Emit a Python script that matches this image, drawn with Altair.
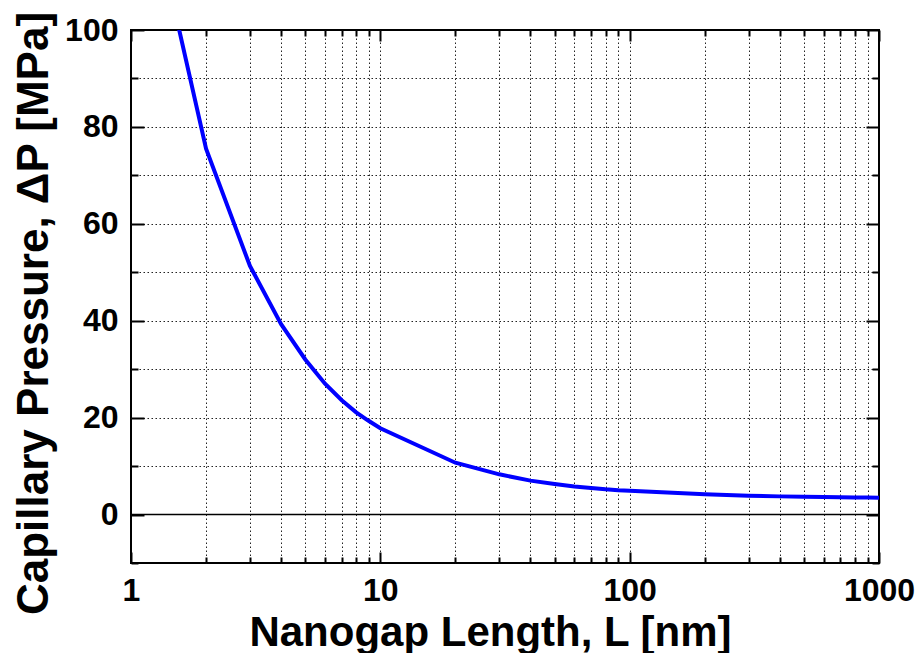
import altair as alt
import pandas as pd

# ---- data ----
L_nm = [1, 2, 3, 4, 5, 6, 7, 8, 9, 10,
        20, 30, 40, 50, 60, 70, 80, 90, 100,
        200, 300, 400, 500, 600, 700, 800, 900, 1000]
dP_MPa = [144.0, 75.5, 51.3, 39.3, 32.0, 27.0, 23.6, 21.1, 19.3, 17.8,
          10.7, 8.3, 7.0, 6.3, 5.8, 5.5, 5.2, 5.0, 4.9,
          4.2, 3.9, 3.75, 3.65, 3.6, 3.55, 3.5, 3.5, 3.45]

x_major = [1, 10, 100, 1000]
x_minor = [2, 3, 4, 5, 6, 7, 8, 9, 20, 30, 40, 50, 60, 70, 80, 90,
           200, 300, 400, 500, 600, 700, 800, 900]
x_grid = [2, 3, 4, 5, 6, 7, 8, 9, 10, 20, 30, 40, 50, 60, 70, 80, 90, 100,
          200, 300, 400, 500, 600, 700, 800, 900]
y_major = [0, 20, 40, 60, 80, 100]
y_minor = [-10, 10, 30, 50, 70, 90]
y_grid = [10, 20, 30, 40, 50, 60, 70, 80, 90]
zero_line = [0]

W, H = 748, 533
FONT = "Liberation Sans"

df = pd.DataFrame({"L": L_nm, "dP": dP_MPa})
zdf = pd.DataFrame({"z": zero_line})

xs = alt.Scale(type="log", domain=[1, 1000], nice=False)
ys = alt.Scale(domain=[-10, 100], nice=False, zero=False)

base = alt.Chart(df)


def axis_layer(xaxis, yaxis):
    return base.mark_line(opacity=0).encode(
        x=alt.X("L:Q", scale=xs, axis=xaxis),
        y=alt.Y("dP:Q", scale=ys, axis=yaxis),
    )


def tick_axis(orient, offset, values, size):
    return alt.Axis(orient=orient, offset=offset, values=values, ticks=True,
                    tickSize=size, tickWidth=2, tickColor="black",
                    labels=False, domain=False, grid=False, title=None)


grid = axis_layer(
    alt.Axis(values=x_grid, grid=True, gridDash=[1.5, 2.5], gridColor="#222222",
             gridWidth=1, ticks=False, labels=False, domain=False, title=None),
    alt.Axis(values=y_grid, grid=True, gridDash=[1.5, 2.5], gridColor="#222222",
             gridWidth=1, ticks=False, labels=False, domain=False, title=None),
)

zero = alt.Chart(zdf).mark_rule(color="black", strokeWidth=1.5).encode(
    y=alt.Y("z:Q", scale=ys, axis=None)
)

line = base.mark_line(color="#0000FF", strokeWidth=4, clip=True).encode(
    x=alt.X("L:Q", scale=xs, axis=None),
    y=alt.Y("dP:Q", scale=ys, axis=None),
)

ticks_a = axis_layer(tick_axis("top", -H, x_major, 11), tick_axis("right", -W, y_major, 13))
ticks_b = axis_layer(tick_axis("top", -H, x_minor, 6), tick_axis("right", -W, y_minor, 7))
ticks_c = axis_layer(tick_axis("bottom", -H, x_major, 11), tick_axis("left", -W, y_major, 13))
ticks_d = axis_layer(tick_axis("bottom", -H, x_minor, 6), tick_axis("left", -W, y_minor, 7))

labels = axis_layer(
    alt.Axis(orient="bottom", values=x_major, format="d", ticks=False, domain=False,
             grid=False, labelFont=FONT, labelFontSize=32, labelFontWeight="bold",
             labelColor="black", labelPadding=12, labelFlush=False, labelOverlap=False,
             title="Nanogap Length, L [nm]", titleFont=FONT, titleFontSize=42,
             titleFontWeight="bold", titleColor="black", titleX=359, titleY=82,
             titleAlign="center", titleBaseline="alphabetic"),
    alt.Axis(orient="left", values=y_major, format="d", ticks=False, domain=False,
             grid=False, labelFont=FONT, labelFontSize=32, labelFontWeight="bold",
             labelColor="black", labelPadding=13, labelFlush=False, labelOverlap=False,
             title="Capillary Pressure, ΔP [MPa]", titleFont=FONT, titleFontSize=44,
             titleFontWeight="bold", titleColor="black", titleX=-84, titleY=283,
             titleAngle=270, titleAlign="center", titleBaseline="alphabetic"),
)

chart = alt.layer(
    grid, zero, line, ticks_a, ticks_b, ticks_c, ticks_d, labels
).resolve_axis(
    x="independent", y="independent"
).properties(
    width=W, height=H,
    padding={"left": 131, "top": 30, "right": 39, "bottom": 90},
    autosize=alt.AutoSizeParams(type="none"),
    background="white",
).configure_view(
    stroke="black", strokeWidth=2
)

chart.save("out.html", embed_options={"renderer": "svg", "actions": False})
